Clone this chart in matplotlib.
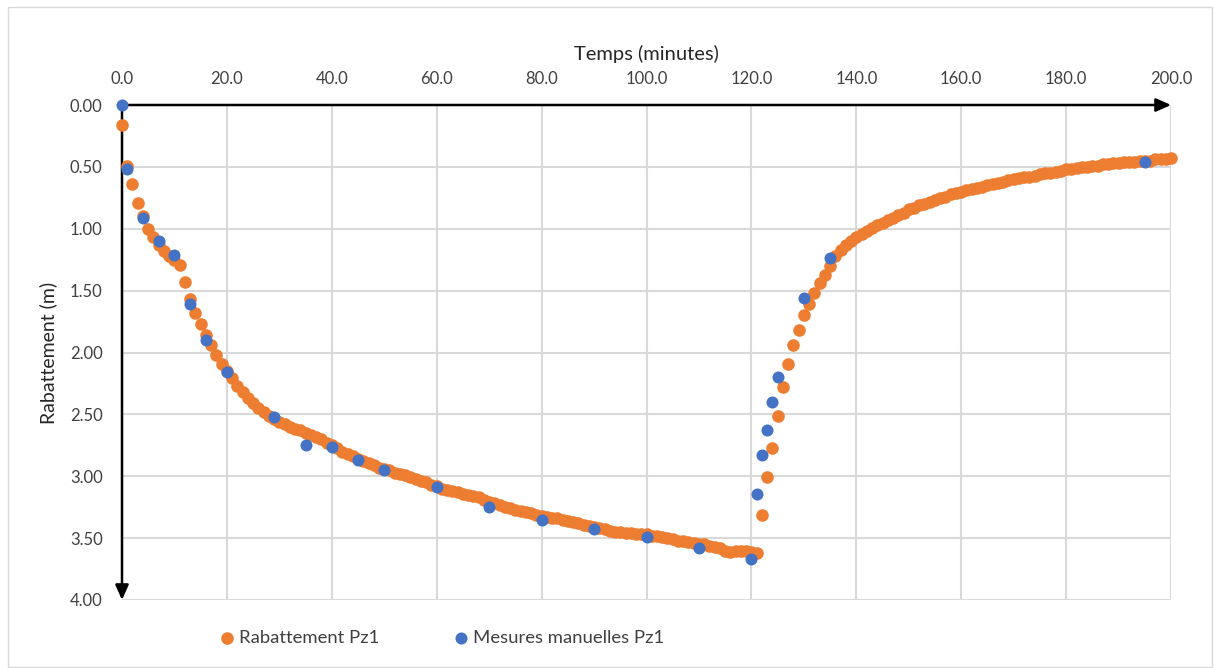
import matplotlib
matplotlib.use("Agg")
import matplotlib.pyplot as plt
from matplotlib.patches import Rectangle

# ---- Data ----
# Rabattement Pz1 (continuous logger), time in minutes and drawdown in m
rab_time = list(range(0, 201))
rab_values = [
    0.16, 0.49, 0.64, 0.79, 0.90, 1.00, 1.07, 1.13, 1.18, 1.22,
    1.25, 1.29, 1.43, 1.57, 1.68, 1.77, 1.86, 1.94, 2.02, 2.09,
    2.15, 2.21, 2.27, 2.32, 2.37, 2.41, 2.45, 2.48, 2.51, 2.54,
    2.56, 2.58, 2.60, 2.62, 2.63, 2.65, 2.67, 2.68, 2.70, 2.73,
    2.75, 2.77, 2.80, 2.82, 2.84, 2.86, 2.88, 2.89, 2.91, 2.93,
    2.94, 2.95, 2.97, 2.98, 2.99, 3.01, 3.02, 3.04, 3.05, 3.07,
    3.08, 3.10, 3.11, 3.12, 3.13, 3.14, 3.15, 3.16, 3.17, 3.19,
    3.21, 3.22, 3.23, 3.25, 3.26, 3.27, 3.28, 3.29, 3.30, 3.31,
    3.32, 3.33, 3.34, 3.34, 3.35, 3.36, 3.37, 3.38, 3.39, 3.40,
    3.41, 3.42, 3.43, 3.44, 3.45, 3.45, 3.46, 3.46, 3.47, 3.47,
    3.47, 3.48, 3.48, 3.49, 3.50, 3.51, 3.52, 3.52, 3.53, 3.54,
    3.55, 3.55, 3.56, 3.57, 3.58, 3.60, 3.61, 3.60, 3.60, 3.60,
    3.61, 3.62,
    3.31, 3.01, 2.77, 2.51, 2.28, 2.09, 1.94, 1.82,
    1.70, 1.61, 1.52, 1.44, 1.37, 1.30, 1.22, 1.17, 1.13, 1.10,
    1.07, 1.04, 1.02, 0.99, 0.97, 0.95, 0.93, 0.91, 0.89, 0.87,
    0.84, 0.83, 0.81, 0.80, 0.78, 0.77, 0.75, 0.74, 0.72, 0.71,
    0.70, 0.69, 0.68, 0.67, 0.66, 0.65, 0.64, 0.63, 0.62, 0.61,
    0.60, 0.59, 0.58, 0.58, 0.57, 0.56, 0.55, 0.55, 0.54, 0.53,
    0.52, 0.52, 0.51, 0.50, 0.50, 0.49, 0.49, 0.48, 0.48, 0.47,
    0.47, 0.46, 0.46, 0.46, 0.45, 0.45, 0.45, 0.44, 0.44, 0.44,
    0.43,
]

# Mesures manuelles Pz1
man_time = [0, 1, 4, 7, 10, 13, 16, 20, 29, 35, 40, 45, 50, 60, 70, 80, 90,
            100, 110, 120, 121, 122, 123, 124, 125, 130, 135, 195]
man_values = [0.00, 0.52, 0.91, 1.10, 1.21, 1.61, 1.90, 2.16, 2.52, 2.75,
              2.76, 2.87, 2.95, 3.09, 3.25, 3.35, 3.43, 3.49, 3.58, 3.67,
              3.14, 2.83, 2.63, 2.40, 2.20, 1.56, 1.24, 0.46]

x_ticks = [0, 20, 40, 60, 80, 100, 120, 140, 160, 180, 200]
y_ticks = [0.0, 0.5, 1.0, 1.5, 2.0, 2.5, 3.0, 3.5, 4.0]

series_names = ["Rabattement Pz1", "Mesures manuelles Pz1"]
x_title = "Temps (minutes)"
y_title = "Rabattement (m)"

# ---- Style ----
plt.rcParams['font.family'] = ['Lato', 'DejaVu Sans']
W, H = 1214, 668
fig = plt.figure(figsize=(W / 100, H / 100), dpi=100)

# outer light frame
fig.patches.append(Rectangle((8 / W, 1 / H), (1212 - 8) / W, (661 - 1) / H,
                             transform=fig.transFigure, fill=False,
                             edgecolor="#d9d9d9", linewidth=1.0))

left, right, top, bottom = 122, 1171, 105, 600
ax = fig.add_axes([left / W, 1 - bottom / H, (right - left) / W, (bottom - top) / H])

orange = "#ED7D31"
blue = "#4472C4"

ax.scatter(rab_time, rab_values, s=82, color=orange, linewidths=0,
           zorder=3, label=series_names[0], clip_on=False)
ax.scatter(man_time, man_values, s=75, color=blue, linewidths=0,
           zorder=4, label=series_names[1], clip_on=False)

ax.set_xlim(0, 200)
ax.set_ylim(4.0, 0.0)
ax.set_xticks(x_ticks)
ax.set_yticks(y_ticks)
ax.set_xticklabels([f"{v:.1f}" for v in x_ticks])
ax.set_yticklabels([f"{v:.2f}" for v in y_ticks])
ax.xaxis.tick_top()
ax.xaxis.set_label_position("top")
ax.tick_params(axis="both", length=0, labelsize=12, labelcolor="#404040")
ax.tick_params(axis="x", pad=13)
ax.tick_params(axis="y", pad=14)

ax.grid(True, color="#d9d9d9", linewidth=1.5, zorder=0)
ax.set_axisbelow(True)
for s in ax.spines.values():
    s.set_visible(False)

ax.set_xlabel(x_title, fontsize=14.5, color="#262626", labelpad=8)
ax.set_ylabel(y_title, fontsize=14, color="#262626", labelpad=9)

# axis arrows
ax.annotate("", xy=(1.0, 1.0), xytext=(0.0, 1.0), xycoords="axes fraction",
            arrowprops=dict(arrowstyle="-|>,head_length=0.9,head_width=0.4",
                            color="black", lw=1.8, shrinkA=0, shrinkB=0),
            annotation_clip=False, zorder=2)
ax.annotate("", xy=(0.0, 0.0), xytext=(0.0, 1.0), xycoords="axes fraction",
            arrowprops=dict(arrowstyle="-|>,head_length=0.9,head_width=0.4",
                            color="black", lw=1.8, shrinkA=0, shrinkB=0),
            annotation_clip=False, zorder=2)

leg = fig.legend(loc="center left", bbox_to_anchor=(220 / W, 1 - 638 / H), ncol=2,
                 frameon=False, fontsize=13.3, handletextpad=0.25, handlelength=0.8,
                 borderpad=0, borderaxespad=0,
                 columnspacing=4.0, markerscale=1.0, labelcolor="#404040")

fig.savefig("out.png", dpi=100)
